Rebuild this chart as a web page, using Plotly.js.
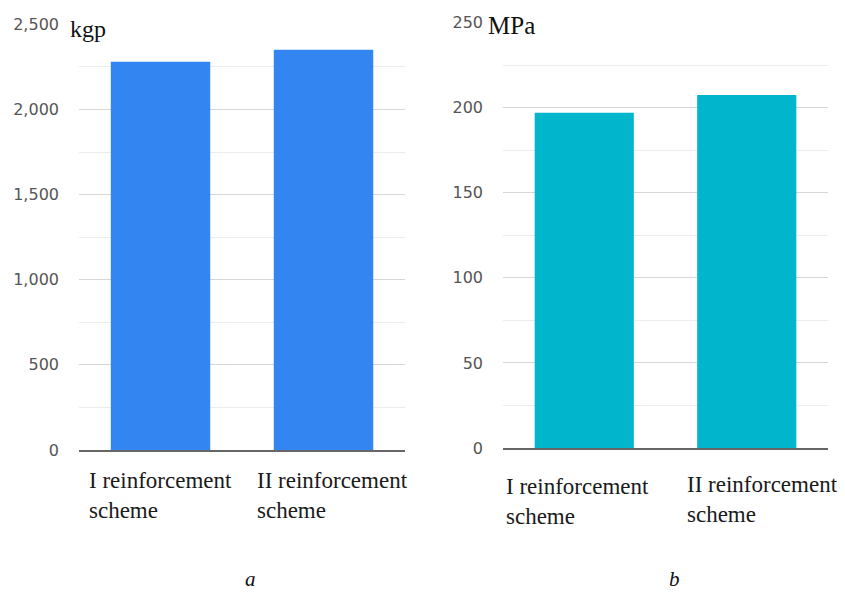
<!DOCTYPE html>
<html>
<head>
<meta charset="utf-8">
<script src="https://cdn.plot.ly/plotly-3.0.1.min.js"></script>
<style>html,body{margin:0;padding:0;background:#fff;}#chart{width:845px;height:595px;}</style>
</head>
<body>
<div id="chart"></div>
<script>
// ---- data ----
const categories = ['I reinforcement scheme', 'II reinforcement scheme'];
const categoryLabels = ['I reinforcement<br>scheme', 'II reinforcement<br>scheme'];
const forceValues = [2280, 2350];          // kgp (chart a)
const stressValues = [197, 207.5];         // MPa (chart b)
const forceTickVals = [0, 500, 1000, 1500, 2000, 2500];
const forceTickText = ['0', '500', '1,000', '1,500', '2,000', '2,500'];
const stressTickVals = [0, 50, 100, 150, 200, 250];
const stressTickText = ['0', '50', '100', '150', '200', '250'];
const forceUnit = 'kgp';
const stressUnit = 'MPa';
const panelCaptions = ['a', 'b'];

// ---- layout helpers ----
const W = 845, H = 595;
const px = v => v / W;
const py = v => (H - v) / H;

const tickFont = {family: 'DejaVu Sans', size: 16, color: '#555'};
const serifFamily = 'Liberation Serif';

const traces = [
  {type: 'bar', x: categories, y: forceValues, xaxis: 'x', yaxis: 'y',
   marker: {color: '#3385f2', line: {width: 0}}, width: 0.61, hoverinfo: 'y'},
  {type: 'bar', x: categories, y: stressValues, xaxis: 'x2', yaxis: 'y2',
   marker: {color: '#00b5cc', line: {width: 0}}, width: 0.61, hoverinfo: 'y'}
];

function xAxis(domain, anchor) {
  return {domain: domain, anchor: anchor, range: [-0.5, 1.5], showticklabels: false,
    showgrid: false, zeroline: false, showline: true, linecolor: '#666', linewidth: 2,
    ticks: '', fixedrange: true, layer: 'above traces'};
}
function yAxis(domain, anchor, range, vals, text, minorStep) {
  return {domain: domain, anchor: anchor, range: range, tickmode: 'array',
    tickvals: vals, ticktext: text, tickfont: tickFont, showgrid: true,
    gridcolor: '#d6d6d6', gridwidth: 1, zeroline: false, showline: false, ticks: '',
    ticklabelstandoff: 19, fixedrange: true,
    minor: {dtick: minorStep, tick0: 0, showgrid: true, gridcolor: '#ececec', gridwidth: 1, ticks: ''}};
}

const annotations = [];
const shiftsA = [0, 9];
const shiftsB = [-7, 16];
categoryLabels.forEach((t, i) => {
  annotations.push({xref: 'x', yref: 'paper', x: categories[i], y: py(466), xanchor: 'center', yanchor: 'top',
    text: t, align: 'left', showarrow: false, xshift: shiftsA[i],
    font: {family: serifFamily, size: 23, color: '#1a1a1a'}});
  annotations.push({xref: 'x2', yref: 'paper', x: categories[i], y: py(i === 0 ? 472 : 470), xanchor: 'center', yanchor: 'top',
    text: t, align: 'left', showarrow: false, xshift: shiftsB[i],
    font: {family: serifFamily, size: 23, color: '#1a1a1a'}});
});
annotations.push({xref: 'paper', yref: 'paper', x: px(68), y: py(29), xanchor: 'left', yanchor: 'middle',
  text: forceUnit, showarrow: false, align: 'left', width: 76, height: 30, bgcolor: '#fff',
  font: {family: serifFamily, size: 24, color: '#111'}});
annotations.push({xref: 'paper', yref: 'paper', x: px(486), y: py(25), xanchor: 'left', yanchor: 'middle',
  text: stressUnit, showarrow: false, align: 'left', width: 76, height: 30, bgcolor: '#fff',
  font: {family: serifFamily, size: 25, color: '#111'}});
annotations.push({xref: 'paper', yref: 'paper', x: px(251), y: py(579), xanchor: 'center', yanchor: 'middle',
  text: '<i>' + panelCaptions[0] + '</i>', showarrow: false, font: {family: serifFamily, size: 21, color: '#111'}});
annotations.push({xref: 'paper', yref: 'paper', x: px(674), y: py(579), xanchor: 'center', yanchor: 'middle',
  text: '<i>' + panelCaptions[1] + '</i>', showarrow: false, font: {family: serifFamily, size: 21, color: '#111'}});

const layout = {
  width: W, height: H, margin: {l: 0, r: 0, t: 0, b: 0, pad: 0},
  paper_bgcolor: '#fff', plot_bgcolor: '#fff', showlegend: false, bargap: 0.39,
  xaxis: xAxis([px(79), px(405)], 'y'),
  yaxis: yAxis([py(450), py(24.3)], 'x', [0, 2500], forceTickVals, forceTickText, 250),
  xaxis2: xAxis([px(503), px(828)], 'y2'),
  yaxis2: yAxis([py(448), py(22.7)], 'x2', [0, 250], stressTickVals, stressTickText, 25),
  annotations: annotations
};

Plotly.newPlot('chart', traces, layout, {displayModeBar: false, staticPlot: true});
</script>
</body>
</html>
